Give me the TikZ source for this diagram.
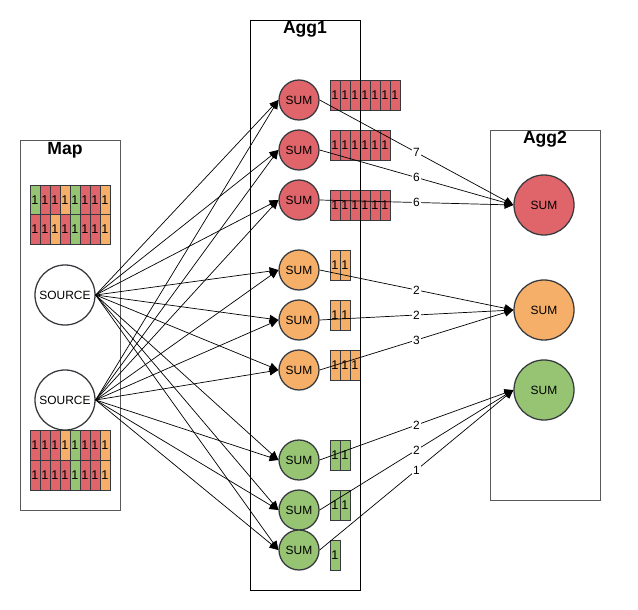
\documentclass[tikz,border=0pt]{standalone}
\usepackage{fontspec}
\setmainfont{Liberation Sans}
\usetikzlibrary{arrows.meta}
\definecolor{sumred}{HTML}{E0656A}
\definecolor{sumorange}{HTML}{F5AF69}
\definecolor{sumgreen}{HTML}{97C472}
\definecolor{rimgrey}{HTML}{36393D}
\tikzset{
  stagebox/.style={draw=black!65, line width=0.8pt, inner sep=0pt},
  stagelab/.style={font=\fontsize{12.5}{14}\selectfont\bfseries},
  sumnode/.style={circle, draw=rimgrey, line width=0.9pt, minimum size=1cm,
    inner sep=0pt, font=\fontsize{8.5}{10}\selectfont},
  bigsum/.style={sumnode, minimum size=1.5cm},
  srcnode/.style={bigsum, fill=white},
  tok/.style={rectangle, draw=rimgrey, line width=0.6pt, minimum width=0.25cm,
    minimum height=0.75cm, inner sep=0pt, font=\fontsize{9}{10}\selectfont},
  feed/.style={-{Triangle[length=2.2mm, width=2mm]}, line width=0.5pt},
  countlab/.style={fill=white, inner sep=1pt, font=\fontsize{8.5}{10}\selectfont},
}
% one row of tokens: name, x and y of the first cell, colours
\newcommand{\tokrow}[4]{%
  \foreach \c [count=\i] in {#4}
    \node[tok, fill=\c] (#1\i) at ({#2+10*(\i-1)},#3) {1};}

\begin{document}
\begin{tikzpicture}[x=0.025cm, y=-0.025cm]
\useasboundingbox (0,0) rectangle (638,610);
% tokens held by the map stage
\tokrow{mt}{35}{200}{sumgreen,sumred,sumred,sumorange,sumgreen,sumred,sumred,sumorange}
\tokrow{mu}{35}{229}{sumred,sumred,sumorange,sumred,sumgreen,sumred,sumred,sumorange}
\tokrow{mv}{35}{445}{sumred,sumred,sumred,sumorange,sumgreen,sumred,sumred,sumorange}
\tokrow{mw}{35}{475}{sumred,sumred,sumred,sumred,sumgreen,sumred,sumred,sumorange}
% tokens held by the first aggregation
\tokrow{kr}{335}{95}{sumred,sumred,sumred,sumred,sumred,sumred,sumred}
\tokrow{ks}{335}{145}{sumred,sumred,sumred,sumred,sumred,sumred}
\tokrow{kt}{335}{205}{sumred,sumred,sumred,sumred,sumred,sumred}
\tokrow{ko}{335}{265}{sumorange,sumorange}
\tokrow{kp}{335}{315}{sumorange,sumorange}
\tokrow{kq}{335}{365}{sumorange,sumorange,sumorange}
\tokrow{kg}{335}{455}{sumgreen,sumgreen}
\tokrow{kh}{335}{505}{sumgreen,sumgreen}
\tokrow{ki}{335}{555}{sumgreen}
% stages
\node[stagebox, anchor=north west, minimum width=2.5cm, minimum height=9.25cm] (mapbox) at (20,140) {};
\node[stagebox, draw=black, line width=0.6pt, anchor=north west, minimum width=2.75cm, minimum height=14.25cm] (agg1box) at (250,20) {};
\node[stagebox, anchor=north west, minimum width=2.75cm, minimum height=9.25cm] (agg2box) at (490,130) {};
\node[stagelab] (maplab) at (65,150) {Map};
\node[stagelab] (agg1lab) at (305,29) {Agg1};
\node[stagelab] (agg2lab) at (545,139) {Agg2};
% sources
\node[srcnode] (src1) at (65,295) {SOURCE};
\node[srcnode] (src2) at (65,400) {SOURCE};
% first aggregation
\node[sumnode, fill=sumred] (sr1) at (299,100) {SUM};
\node[sumnode, fill=sumred] (sr2) at (299,150) {SUM};
\node[sumnode, fill=sumred] (sr3) at (299,200) {SUM};
\node[sumnode, fill=sumorange] (so1) at (299,270) {SUM};
\node[sumnode, fill=sumorange] (so2) at (299,320) {SUM};
\node[sumnode, fill=sumorange] (so3) at (299,370) {SUM};
\node[sumnode, fill=sumgreen] (sg1) at (299,460) {SUM};
\node[sumnode, fill=sumgreen] (sg2) at (299,510) {SUM};
\node[sumnode, fill=sumgreen] (sg3) at (299,550) {SUM};
% second aggregation
\node[bigsum, fill=sumred] (totr) at (544,205) {SUM};
\node[bigsum, fill=sumorange] (toto) at (544,310) {SUM};
\node[bigsum, fill=sumgreen] (totg) at (544,390) {SUM};
% every source feeds every partial sum
\foreach \s in {src1,src2}
  \foreach \t in {sr1,sr2,sr3,so1,so2,so3,sg1,sg2,sg3}
    \draw[feed] (\s.east) -- (\t.west);
% partial sums to totals
\draw[feed] (sr1.east) -- node[countlab] {7} (totr.west);
\draw[feed] (sr2.east) -- node[countlab] {6} (totr.west);
\draw[feed] (sr3.east) -- node[countlab] {6} (totr.west);
\draw[feed] (so1.east) -- node[countlab] {2} (toto.west);
\draw[feed] (so2.east) -- node[countlab] {2} (toto.west);
\draw[feed] (so3.east) -- node[countlab] {3} (toto.west);
\draw[feed] (sg1.east) -- node[countlab] {2} (totg.west);
\draw[feed] (sg2.east) -- node[countlab] {2} (totg.west);
\draw[feed] (sg3.east) -- node[countlab] {1} (totg.west);
\end{tikzpicture}
\end{document}
